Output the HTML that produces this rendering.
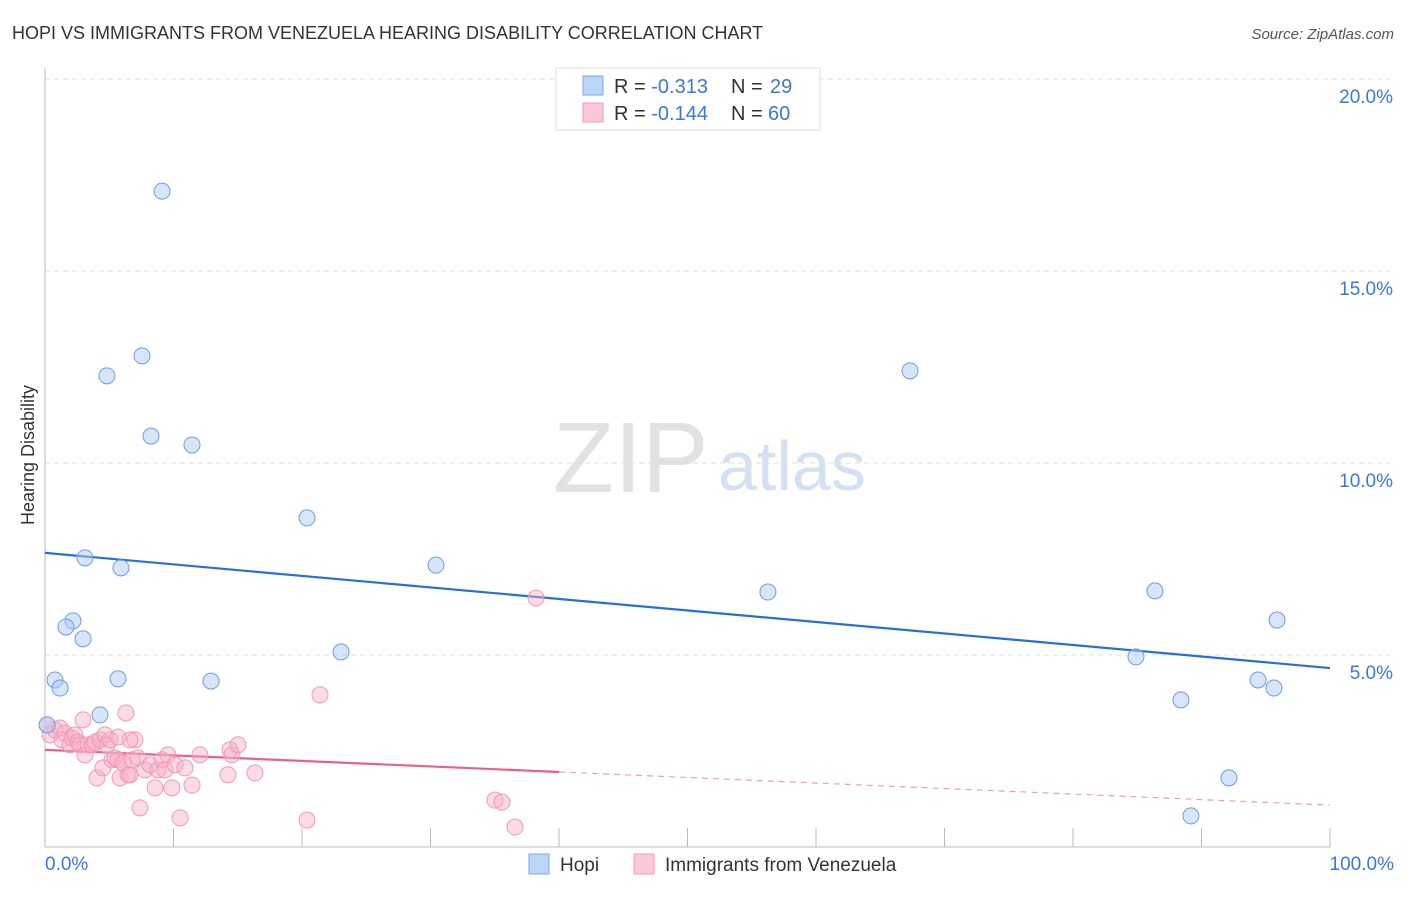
<!DOCTYPE html>
<html><head><meta charset="utf-8"><style>
body{margin:0;background:#fff;font-family:"Liberation Sans",sans-serif}
svg text{font-family:"Liberation Sans",sans-serif}
</style></head><body>
<svg id="chart" width="1406" height="892" xmlns="http://www.w3.org/2000/svg">
<text x="12" y="39" font-size="18" fill="#333">HOPI VS IMMIGRANTS FROM VENEZUELA HEARING DISABILITY CORRELATION CHART</text>
<text x="1394" y="39" font-size="15" fill="#555" font-style="italic" text-anchor="end">Source: ZipAtlas.com</text>
<text x="553" y="492" font-size="100" fill="#e2e2e2" font-family="Liberation Serif">ZIP</text>
<text x="718" y="490" font-size="70" fill="#d3e2f3">atlas</text>
<text transform="translate(34,455) rotate(-90)" font-size="18" fill="#333" text-anchor="middle">Hearing Disability</text>
<g id="grid"></g><g id="axes"></g><g id="lines"></g><g id="pts"></g>
<g>
<rect x="556" y="68" width="264" height="62" fill="#fff" stroke="#ddd"/>
<rect x="583" y="76" width="20" height="19" fill="#bcd5f5" stroke="#7aa6e6"/>
<rect x="583" y="103" width="20" height="19" fill="#fbc8d7" stroke="#f19ab5"/>
<text x="614" y="93" font-size="20" fill="#333">R = <tspan fill="#3b78d8">-0.313</tspan><tspan x="731">N = </tspan><tspan fill="#3b78d8" x="770">29</tspan></text>
<text x="614" y="120" font-size="20" fill="#333">R = <tspan fill="#3b78d8">-0.144</tspan><tspan x="731">N = </tspan><tspan fill="#3b78d8" x="768">60</tspan></text>
</g>
<g>
<rect x="529" y="854" width="20" height="20" fill="#bcd5f5" stroke="#7aa6e6"/>
<text x="560" y="871" font-size="19" fill="#333">Hopi</text>
<rect x="634" y="854" width="20" height="20" fill="#fbc8d7" stroke="#f19ab5"/>
<text x="665" y="871" font-size="19" fill="#333">Immigrants from Venezuela</text>
</g>
</svg>
<script>
const yTicks=[5,10,15,20];
const yTickLabels=["5.0%","10.0%","15.0%","20.0%"];
const xLabels=["0.0%","100.0%"];
const hopiX=[9.11,7.55,4.82,8.25,11.44,20.39,3.11,5.91,30.43,2.18,1.63,2.96,23.04,0.78,1.17,5.68,12.92,4.28,0.16,67.32,56.26,86.38,95.88,84.90,88.40,94.40,95.64,92.14,89.18];
const hopiY=[17.08,12.79,12.27,10.70,10.47,8.57,7.53,7.27,7.34,5.89,5.73,5.42,5.08,4.35,4.14,4.38,4.32,3.44,3.18,12.40,6.64,6.67,5.91,4.95,3.83,4.35,4.14,1.80,0.81];
const venX=[0.16,0.39,0.78,1.17,1.32,1.56,1.95,2.10,2.33,2.57,2.72,2.96,3.11,3.35,3.66,3.89,4.05,4.28,4.51,4.67,4.82,5.06,5.21,5.45,5.68,5.84,6.07,6.30,6.46,6.61,6.77,7.00,7.24,7.39,7.78,8.17,8.56,8.79,9.11,9.34,9.57,9.88,10.12,10.51,10.89,11.44,12.06,14.40,14.55,14.24,15.02,16.34,20.39,21.40,35.02,35.56,36.58,38.21,6.61,5.68];
const venY=[3.18,2.92,3.05,3.10,2.79,2.97,2.66,2.84,2.92,2.73,2.66,3.31,2.40,2.66,2.66,2.73,1.80,2.79,2.06,2.92,2.66,2.79,2.27,2.32,2.27,1.80,2.19,3.49,1.88,1.88,2.27,2.79,2.32,1.02,2.01,2.14,1.54,2.01,2.27,2.01,2.40,1.54,2.14,0.76,2.06,1.61,2.40,2.53,2.40,1.88,2.66,1.93,0.70,3.96,1.22,1.17,0.52,6.48,2.79,2.86];
const hopiTrend=[7.66,4.66];
const venTrend=[2.53,1.09];
const venSolidEnd=40;
const NS="http://www.w3.org/2000/svg";
const sx=v=>45+v*12.85, sy=v=>847-v*38.4;
function mk(t,a,p){const e=document.createElementNS(NS,t);for(const k in a)e.setAttribute(k,a[k]);document.getElementById(p).appendChild(e);return e;}
yTicks.forEach((t,i)=>{
 const g=mk('line',{x1:45,x2:1394,y1:sy(t),y2:sy(t),stroke:'#ddd','stroke-dasharray':'5,4'},'grid');
 
 
 const l=mk('text',{x:1393,y:sy(t)+24,'font-size':19,fill:'#3b78d8','text-anchor':'end'},'grid');l.textContent=yTickLabels[i];
 
 
});
const ya=mk('line',{x1:45,x2:45,y1:68,y2:847,stroke:'#bbb'},'axes');


const xa=mk('line',{x1:45,x2:1330,y1:847,y2:847,stroke:'#bbb'},'axes');


for(let i=0;i<=10;i++){const t=mk('line',{x1:sx(i*10),x2:sx(i*10),y1:828,y2:847,stroke:'#bbb'},'axes');
 
 }
[[0,'start',45],[100,'end',1394]].forEach((d,i)=>{const t=mk('text',{x:d[2],y:870,'font-size':19,fill:'#3b78d8','text-anchor':d[1]},'axes');t.textContent=xLabels[i];
 
 });
const lt=(a,b,x)=>a+(b-a)*x/100;
let hl=mk('line',{x1:sx(0),y1:sy(hopiTrend[0]),x2:sx(100),y2:sy(hopiTrend[1]),stroke:'#2a6fd6','stroke-width':2.2},'lines');


let vl=mk('line',{x1:sx(0),y1:sy(venTrend[0]),x2:sx(venSolidEnd),y2:sy(lt(venTrend[0],venTrend[1],venSolidEnd)),stroke:'#e8608c','stroke-width':2.2},'lines');


let vd=mk('line',{x1:sx(venSolidEnd),y1:sy(lt(venTrend[0],venTrend[1],venSolidEnd)),x2:sx(100),y2:sy(venTrend[1]),stroke:'#e8a0b8','stroke-width':1.2,'stroke-dasharray':'6,5'},'lines');


venX.forEach((x,i)=>{const c=mk('circle',{cx:sx(x),cy:sy(venY[i]),r:8,fill:'rgba(248,175,198,0.45)',stroke:'#ee9ab5','stroke-width':1},'pts');
 
 });
hopiX.forEach((x,i)=>{const c=mk('circle',{cx:sx(x),cy:sy(hopiY[i]),r:8,fill:'rgba(175,204,243,0.5)',stroke:'#6d9de0','stroke-width':1},'pts');
 
 });
</script>
</body></html>
